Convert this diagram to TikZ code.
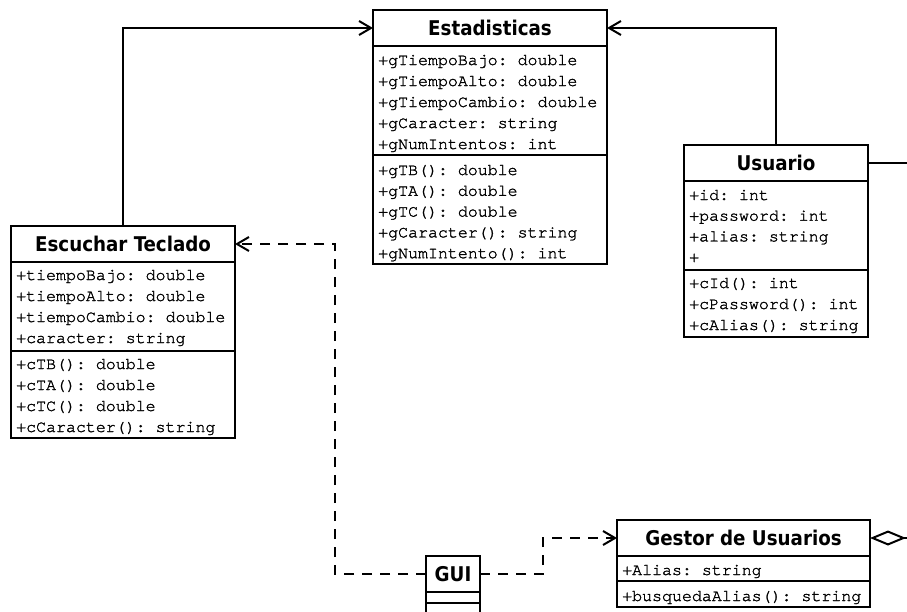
\documentclass[tikz,border=0pt]{standalone}
\usepackage{fontspec}
\setmonofont{TeX Gyre Cursor}[FakeBold=1.5]
\newfontfamily\hdrfont{DejaVu Sans Condensed}
\usetikzlibrary{arrows.meta}
\tikzset{
  box/.style={draw=black, line width=2pt, fill=white},
  hdr/.style={box, inner sep=0pt, outer sep=0pt, font=\hdrfont\bfseries\fontsize{20.3}{20}\selectfont},
  mem/.style={anchor=base west, inner sep=0pt, font=\ttfamily\fontsize{16.6}{21}\selectfont},
  conn/.style={line width=2pt, draw=black},
  dep/.style={conn, dash pattern=on 10pt off 8pt},
  tip/.style={-{Straight Barb[length=12pt,width=14pt,line width=2pt]}},
}
\begin{document}
\begin{tikzpicture}[x=1pt,y=-1pt]
\useasboundingbox (0,0) rectangle (907,611);
\clip (0,0) rectangle (907,611);
\fill[white] (0,0) rectangle (907,611);

% ---------- class boxes and headers ----------
\draw[box] (373,46) rectangle (607,155);
\draw[box] (373,155) rectangle (607,264);
\node[hdr, minimum width=234pt, minimum height=36pt, anchor=north west] (est) at (373,10) {Estadisticas};

\draw[box] (11,262) rectangle (235,351);
\draw[box] (11,351) rectangle (235,438);
\node[hdr, minimum width=224pt, minimum height=36pt, anchor=north west] (esc) at (11,226) {Escuchar Teclado};

\draw[box] (684,181) rectangle (868,270);
\draw[box] (684,270) rectangle (868,337);
\node[hdr, minimum width=184pt, minimum height=36pt, anchor=north west] (usu) at (684,145) {Usuario};

\draw[box] (617,556) rectangle (870,581);
\draw[box] (617,581) rectangle (870,607);
\node[hdr, minimum width=253pt, minimum height=36pt, anchor=north west] (ges) at (617,520) {Gestor de Usuarios};

\draw[box] (426,592) rectangle (480,603);
\draw[box] (426,603) rectangle (480,640);
\node[hdr, minimum width=54pt, minimum height=36pt, anchor=north west] (gui) at (426,556) {GUI};

% ---------- connectors ----------
\draw[conn, tip] (esc.north) |- (est.west);
\draw[conn, tip] (usu.north) |- (est.east);
\coordinate (usuout) at ([xshift=60pt]usu.east);
\draw[conn] (usu.east) -- (usuout);

\coordinate (gl) at ([xshift=-91pt]gui.west);
\coordinate (gr) at ([xshift=63pt]gui.east);
\draw[dep, tip] (gui.west) -- (gl) |- (esc.east);
\draw[dep, tip] (gui.east) -- (gr) |- (ges.west);

\coordinate (gesout) at ([xshift=60pt]ges.east);
\draw[conn, {Diamond[open, fill=white, length=36pt, width=15pt, line width=2pt]}-] (ges.east) -- (gesout);

% ---------- members ----------
\foreach \t [count=\i] in {+gTiempoBajo: double,+gTiempoAlto: double,+gTiempoCambio: double,+gCaracter: string,+gNumIntentos: int}
  \node[mem] (esta\i) at (378,{65+21*(\i-1)}) {\t};
\foreach \t [count=\i] in {+gTB(): double,+gTA(): double,+gTC(): double,+gCaracter(): string,+gNumIntento(): int}
  \node[mem] (estm\i) at (378,{175+20.8*(\i-1)}) {\t};

\foreach \t [count=\i] in {+tiempoBajo: double,+tiempoAlto: double,+tiempoCambio: double,+caracter: string}
  \node[mem] (esca\i) at (16,{280+21*(\i-1)}) {\t};
\foreach \t [count=\i] in {+cTB(): double,+cTA(): double,+cTC(): double,+cCaracter(): string}
  \node[mem] (escm\i) at (16,{369+21*(\i-1)}) {\t};

\foreach \t [count=\i] in {+id: int,+password: int,+alias: string,+}
  \node[mem] (usua\i) at (689,{200+20.7*(\i-1)}) {\t};
\foreach \t [count=\i] in {+cId(): int,+cPassword(): int,+cAlias(): string}
  \node[mem] (usum\i) at (689,{288+21*(\i-1)}) {\t};

\node[mem] (gesa1) at (622,575) {+Alias: string};
\node[mem] (gesm1) at (622,601) {+busquedaAlias(): string};
\end{tikzpicture}
\end{document}
